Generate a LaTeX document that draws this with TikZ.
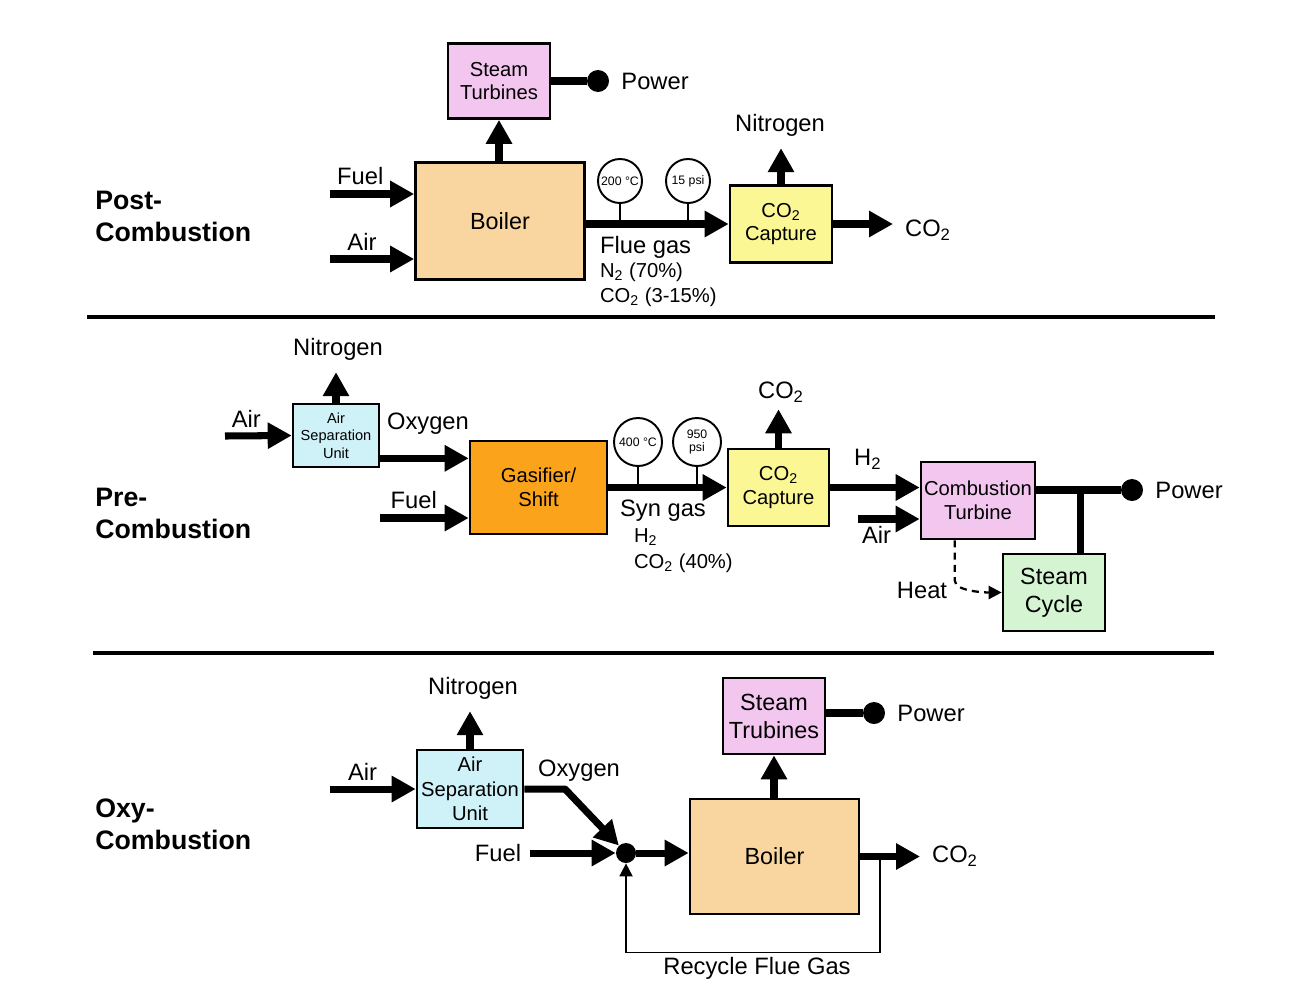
\documentclass[tikz,border=0pt]{standalone}
\usepackage{fontspec}
\setmainfont{Liberation Sans}
\usetikzlibrary{arrows.meta, positioning}
\definecolor{turbpink}{HTML}{F3C6F0}
\definecolor{boilertan}{HTML}{F9D5A0}
\definecolor{captyellow}{HTML}{FBF795}
\definecolor{gasorange}{HTML}{FBA31A}
\definecolor{asucyan}{HTML}{CFF1F8}
\definecolor{cyclegreen}{HTML}{D4F4D2}
\newcommand{\lblfont}{\fontsize{13.5}{15}\selectfont}
\newcommand{\unitfont}{\fontsize{11.5}{13.5}\selectfont}
\newcommand{\bigunitfont}{\fontsize{13.3}{16}\selectfont}
\newcommand{\secfont}{\fontsize{15.2}{18.2}\selectfont\bfseries}
\newcommand{\gaugefont}{\fontsize{7}{7.6}\selectfont}
\newcommand{\asufont}{\fontsize{8.3}{10}\selectfont}
\newcommand{\cotwo}{CO\textsubscript{2}}
\newcommand{\htwo}{H\textsubscript{2}}
\newcommand{\ntwo}{N\textsubscript{2}}
\tikzset{
  >={Triangle[length=4.8mm, width=5mm]},
  unit/.style={rectangle, draw, line width=1.5pt, align=center, inner sep=1pt, font=\unitfont},
  unitt/.style={unit, fill=boilertan},
  unitp/.style={unit, fill=turbpink},
  unity/.style={unit, fill=captyellow},
  unito/.style={unit, fill=gasorange},
  unitc/.style={unit, fill=asucyan},
  unitg/.style={unit, fill=cyclegreen},
  flow/.style={->, line width=4pt},
  pipe/.style={line width=4pt},
  stem/.style={line width=1.2pt},
  gauge/.style={circle, draw, line width=1.1pt, fill=white, inner sep=0pt, align=center, font=\gaugefont},
  outdot/.style={circle, fill=black, minimum size=4.4mm, inner sep=0pt},
  mixdot/.style={circle, fill=black, minimum size=4mm, inner sep=0pt},
  thinflow/.style={-{Triangle[length=2.6mm, width=2.6mm]}, line width=1pt},
  heatflow/.style={-{Triangle[length=2.6mm, width=2.6mm]}, line width=1.3pt, dash pattern=on 4pt off 3pt},
  lbl/.style={font=\lblfont, inner sep=1pt},
  sublbl/.style={font=\unitfont, inner sep=1pt, anchor=west},
  sect/.style={font=\secfont, align=left, anchor=west, inner sep=0pt},
  rule/.style={line width=1.8pt},
}
\begin{document}
\begin{tikzpicture}[x=0.2mm, y=-0.2mm]
  \useasboundingbox (0,0) rectangle (1291,981);

  % post-combustion
  \node[sect] (postsec) at (95,216) {Post-\\Combustion};
  \node[unitt, minimum width=33.8mm, minimum height=23.4mm, font=\bigunitfont] (boilA) at (500,221) {Boiler};
  \node[unitp, minimum width=20.4mm, minimum height=15mm] (turbA) at (499,81) {Steam\\Turbines};
  \node[unity, minimum width=20.4mm, minimum height=15.4mm] (captA) at (781,224) {\cotwo\\Capture};
  \node[outdot] (dotA) at (598,81) {};
  \node[lbl, right=2mm of dotA] (powA) {Power};
  \node[gauge, minimum size=8.8mm] (gA1) at (620,181) {200 °C};
  \node[gauge, minimum size=8.8mm] (gA2) at (688,181) {15 psi};
  \node[lbl] (nitA) at (780,125) {Nitrogen};
  \node[lbl, anchor=west] (co2A) at (903,230) {\cotwo};
  \node[lbl, anchor=west] (flueA) at (598,247) {Flue gas};
  \node[sublbl] (n2A) at (598,272) {\ntwo\ (70\%)};
  \node[sublbl] (c2A) at (598,297) {\cotwo\ (3-15\%)};
  \coordinate (fuelinA) at (330,194);
  \coordinate (airinA) at (330,259);
  \draw[flow] (fuelinA) -- (fuelinA -| boilA.west) node[lbl, above=2pt, pos=0.36] (fuelA) {Fuel};
  \draw[flow] (airinA) -- (airinA -| boilA.west) node[lbl, above=2pt, pos=0.38] (airA) {Air};
  \draw[flow] (turbA.south |- boilA.north) -- (turbA.south);
  \draw[pipe] (turbA.east |- dotA) -- (dotA);
  \draw[flow] (boilA.east |- captA.west) -- (captA.west);
  \draw[stem] (gA1.south) -- (gA1.south |- captA.west);
  \draw[stem] (gA2.south) -- (gA2.south |- captA.west);
  \draw[flow, shorten >=2mm] (captA.north) -- (captA.north |- nitA.south);
  \draw[flow, shorten >=2mm] (captA.east) -- (captA.east -| co2A.west);

  \draw[rule] (87,317) -- (1215,317);

  % pre-combustion
  \node[sect] (presec) at (95,513) {Pre-\\Combustion};
  \node[unitc, minimum width=17.2mm, minimum height=12.6mm, font=\asufont] (asuB) at (336,435.5) {Air\\Separation\\Unit};
  \node[unito, minimum width=27.4mm, minimum height=18.6mm] (gasB) at (538.5,487.5) {Gasifier/\\Shift};
  \node[unity, minimum width=20.2mm, minimum height=15.4mm] (captB) at (778.5,487.5) {\cotwo\\Capture};
  \node[unitp, minimum width=22.8mm, minimum height=15.4mm] (ctB) at (978,500.5) {Combustion\\Turbine};
  \node[unitg, minimum width=20.4mm, minimum height=15.4mm, font=\bigunitfont] (scB) at (1054,592.5) {Steam\\Cycle};
  \node[gauge, minimum size=9.6mm] (gB1) at (638,442) {400 °C};
  \node[gauge, minimum size=9.6mm] (gB2) at (697,442) {950\\psi};
  \node[outdot] (dotB) at (1132,490) {};
  \node[lbl, right=2mm of dotB] (powB) {Power};
  \node[lbl] (nitB) at (338,349) {Nitrogen};
  \node[lbl] (oxyB) at (428,424) {Oxygen};
  \node[lbl] (co2B) at (781,392) {\cotwo};
  \node[lbl, anchor=west] (synB) at (618,511) {Syn gas};
  \node[sublbl] (h2B) at (632,537) {\htwo};
  \node[sublbl] (c2B) at (632,563) {\cotwo\ (40\%)};
  \node[lbl] (heatB) at (922,590) {Heat};
  \coordinate (airinB) at (225,436);
  \coordinate (fuelinB) at (380,518);
  \coordinate (airinB2) at (858,519);
  \coordinate (oxB) at ([yshift=2mm]asuB.south east);
  \coordinate (jB) at (1080,490);
  \coordinate (heatsB) at ([xshift=7mm]ctB.south west);
  \draw[flow] (airinB) -- (asuB.west) node[lbl, above=2pt, pos=0.32] (airB) {Air};
  \draw[flow, shorten >=2mm] (asuB.north) -- (asuB.north |- nitB.south);
  \draw[flow] (oxB) -- (oxB -| gasB.west);
  \draw[flow] (fuelinB) -- (fuelinB -| gasB.west) node[lbl, above=2pt, pos=0.38] (fuelB) {Fuel};
  \draw[flow] (gasB.east) -- (captB.west);
  \draw[stem] (gB1.south) -- (gB1.south |- captB.west);
  \draw[stem] (gB2.south) -- (gB2.south |- captB.west);
  \draw[flow, shorten >=1mm] (captB.north) -- (captB.north |- co2B.south);
  \draw[flow] (captB.east) -- (captB.east -| ctB.west) node[lbl, above=2.5mm, pos=0.42] (h2lB) {\htwo};
  \draw[flow] (airinB2) -- (airinB2 -| ctB.west) node[lbl, below=1pt, pos=0.3] (airB2) {Air};
  \draw[pipe] (ctB.east |- dotB) -- (dotB);
  \draw[pipe] (jB) -- (jB |- scB.north);
  \draw[heatflow] (heatsB) -- ++(0,40) .. controls +(0,12) and +(-12,0) .. (scB.west);

  \draw[rule] (93,653) -- (1214,653);

  % oxy-combustion
  \node[sect] (oxysec) at (95,824) {Oxy-\\Combustion};
  \node[unitc, minimum width=21.2mm, minimum height=15.6mm, font=\fontsize{11.5}{14}\selectfont] (asuC) at (470,789) {Air\\Separation\\Unit};
  \node[unitt, minimum width=33.8mm, minimum height=23mm, font=\bigunitfont] (boilC) at (774.5,856.5) {Boiler};
  \node[unitp, minimum width=20.4mm, minimum height=15.2mm, font=\bigunitfont] (turbC) at (774,716) {Steam\\Trubines};
  \node[mixdot] (mixC) at (626,853) {};
  \node[outdot] (dotC) at (874,713) {};
  \node[lbl, right=2mm of dotC] (powC) {Power};
  \node[lbl] (nitC) at (473,688) {Nitrogen};
  \node[lbl] (oxyC) at (579,771) {Oxygen};
  \node[lbl] (fuelC) at (498,853) {Fuel};
  \node[lbl, anchor=west] (co2C) at (930,856) {\cotwo};
  \node[lbl] (recC) at (757,968) {Recycle Flue Gas};
  \coordinate (airinC) at (330,789);
  \coordinate (bendC) at (565,789);
  \coordinate (tapC) at ([xshift=4mm]boilC.east);
  \draw[flow] (airinC) -- (asuC.west) node[lbl, above=2pt, pos=0.38] (airC) {Air};
  \draw[flow, shorten >=2mm] (asuC.north) -- (asuC.north |- nitC.south);
  \draw[flow, line join=round] (asuC.east) -- (bendC) -- (mixC);
  \draw[flow, shorten <=1.4mm] (fuelC.east) -- (mixC);
  \draw[flow] (mixC) -- (mixC -| boilC.west);
  \draw[flow] (turbC.south |- boilC.north) -- (turbC.south);
  \draw[pipe] (turbC.east |- dotC) -- (dotC);
  \draw[flow, shorten >=2mm] (boilC.east) -- (boilC.east -| co2C.west);
  \draw[thinflow] (tapC) -- ++(0,96) -| (mixC);
\end{tikzpicture}
\end{document}
